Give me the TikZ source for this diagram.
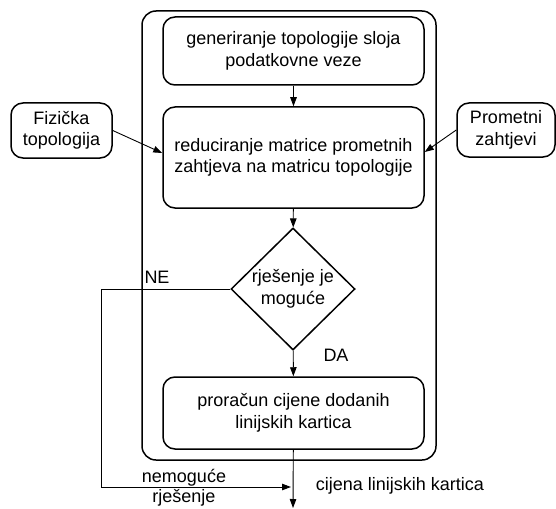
\documentclass[tikz,border=0pt]{standalone}
\usepackage{fontspec}
\setmainfont{Liberation Sans}
\usetikzlibrary{arrows.meta,shapes.geometric}

\tikzset{
  txt/.style={font=\fontsize{18}{21.6}\selectfont, align=center, inner sep=0pt},
  procbox/.style={txt, draw, line width=1.5pt, rounded corners=12pt,
    minimum width=261pt},
  inbox/.style={txt, draw, line width=1.5pt, rounded corners=12pt},
  frame/.style={draw, line width=1.5pt, rounded corners=14pt, inner sep=0pt},
  decision/.style={txt, draw, diamond, line width=1.5pt, aspect=1,
    minimum width=124pt, minimum height=122pt},
  flow/.style={line width=0.9pt, -{Triangle[length=9pt,width=6.5pt]}},
}

\begin{document}
\begin{tikzpicture}[x=1pt,y=-1pt]
  \useasboundingbox (0,0) rectangle (556,508);

  % enclosing frame of the procedure
  \node[frame, minimum width=294pt, minimum height=449pt] (outer) at (289,235.5) {};

  % process steps
  \node[procbox, minimum height=68pt] (gen) at (293.5,51)
    {generiranje topologije sloja\\podatkovne veze};
  \node[procbox, minimum height=101pt] (red) at (293.5,157.5)
    {reduciranje matrice prometnih\\zahtjeva na matricu topologije};
  \node[decision] (dec) at (293,289) {rješenje je\\moguće};
  \node[procbox, minimum height=72pt] (cost) at (293.5,413)
    {proračun cijene dodanih\\linijskih kartica};

  % external inputs
  \node[inbox, minimum width=101pt, minimum height=55pt] (phys) at (61.5,130.5)
    {Fizička\\topologija};
  \node[inbox, minimum width=98pt, minimum height=54pt] (traf) at (506,130)
    {Prometni\\zahtjevi};

  % free ends of connectors
  \coordinate (nebottom) at (101,487);
  \coordinate (neend) at (291,487);
  \coordinate (out) at (293,508);

  % connectors
  \draw[flow] (gen) -- (red);
  \draw[flow] (red) -- (dec);
  \draw[flow] (dec) -- (cost);
  \draw[flow] (cost) -- (out);
  \draw[flow] (phys.east) -- ([yshift=4.5pt]red.west);
  \draw[flow] (traf.west) -- ([yshift=5.5pt]red.east);
  \draw[flow] (dec.west) -| (nebottom) -- (neend);

  % labels
  \node[txt] (ne) at (157,277) {NE};
  \node[txt] (da) at (336,355) {DA};
  \node[txt, font=\fontsize{18}{20}\selectfont] (imp) at (184,488) {nemoguće\\rješenje};
  \node[txt] (price) at (400,486) {cijena linijskih kartica};
\end{tikzpicture}
\end{document}
